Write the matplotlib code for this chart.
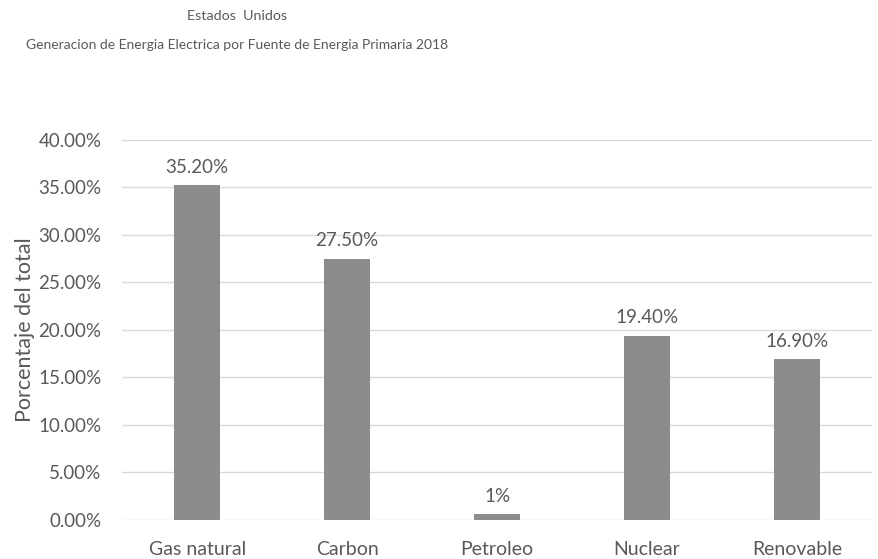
import matplotlib
matplotlib.use('Agg')
import matplotlib.pyplot as plt
from matplotlib.ticker import FuncFormatter

# datos
fuentes = ['Gas natural', 'Carbon', 'Petroleo', 'Nuclear', 'Renovable']
porcentajes = [35.2, 27.5, 0.6, 19.4, 16.9]
etiquetas = ['35.20%', '27.50%', '1%', '19.40%', '16.90%']

plt.rcParams['font.family'] = ['Lato', 'DejaVu Sans']
gris_texto = '#595959'

fig = plt.figure(figsize=(8.79, 5.59), dpi=100)
ax = fig.add_axes([0.139, 0.070, 0.853, 0.680])

x = range(len(fuentes))
ax.bar(x, porcentajes, width=0.31, color='#8c8c8c', zorder=3)
for xi, v, t in zip(x, porcentajes, etiquetas):
    ax.annotate(t, (xi, v), xytext=(0, 13), textcoords='offset points',
                ha='center', va='center', fontsize=13.5, color=gris_texto)

ax.set_ylim(0, 40)
ax.set_xlim(-0.5, len(fuentes) - 0.5)
ax.set_yticks([0, 5, 10, 15, 20, 25, 30, 35, 40])
ax.yaxis.set_major_formatter(FuncFormatter(lambda v, p: f'{v:.2f}%'))
ax.set_xticks(list(x))
ax.set_xticklabels(fuentes)
ax.grid(axis='y', color='#d9d9d9', linewidth=1, zorder=0)
for s in ax.spines.values():
    s.set_visible(False)
ax.tick_params(length=0, labelsize=13.5, colors=gris_texto)
ax.tick_params(axis='y', pad=15)
ax.tick_params(axis='x', pad=15, labelsize=14)
ax.set_ylabel('Porcentaje del total', fontsize=15.5, color=gris_texto, labelpad=2)

fig.text(237 / 879, 1 - 16 / 559, 'Estados  Unidos', ha='center', va='center',
         fontsize=10.3, color=gris_texto)
fig.text(237 / 879, 1 - 45 / 559,
         'Generacion de Energia Electrica por Fuente de Energia Primaria 2018',
         ha='center', va='center', fontsize=10, color=gris_texto)

fig.savefig('out.png', dpi=100)
